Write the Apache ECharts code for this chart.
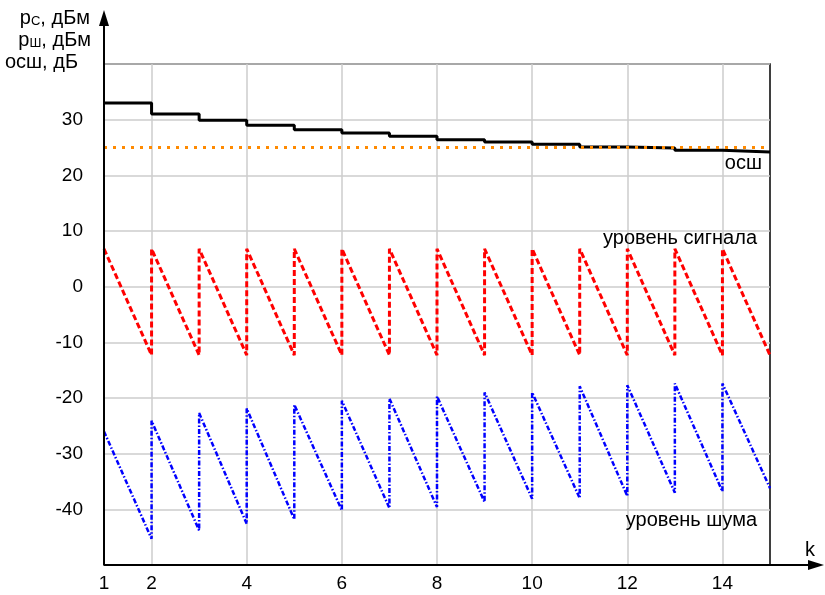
<!DOCTYPE html>
<html>
<head>
<meta charset="utf-8">
<script src="https://cdn.jsdelivr.net/npm/echarts@6/dist/echarts.min.js"></script>
<style>
html, body { margin: 0; padding: 0; background: #fff; }
#chart { width: 825px; height: 595px; }
</style>
</head>
<body>
<div id="chart"></div>
<script>
// шаги k и отношение сигнал/шум (ступенчатая линия)
var k_steps = [1, 2, 3, 4, 5, 6, 7, 8, 9, 10, 11, 12, 13, 14, 15];
var snr_db = [33.0, 31.0, 29.9, 29.0, 28.2, 27.6, 27.0, 26.4, 26.0, 25.6, 25.1, 24.9, 24.5, 24.2, 24.2];

// пороговое осш
var snr_k = [1, 15];
var snr_min_db = [25, 25];

// пилообразные уровни: каждая пара точек - один участок
var saw_k = [1, 2, 2, 3, 3, 4, 4, 5, 5, 6, 6, 7, 7, 8,
	     8, 9, 9, 10, 10, 11, 11, 12, 12, 13, 13, 14, 14, 15];
var signal_dbm = [6.8, -12.3, 6.8, -12.3, 6.8, -12.3, 6.8, -12.3, 6.8, -12.3, 6.8, -12.3, 6.8, -12.3,
		  6.8, -12.3, 6.8, -12.3, 6.8, -12.3, 6.8, -12.3, 6.8, -12.3, 6.8, -12.3, 6.8, -12.3];
var noise_dbm = [-26.0, -45.3, -24.1, -43.8, -22.7, -42.6, -21.9, -41.8, -21.2, -40.2, -20.5, -39.8, -20.1, -39.6,
		 -19.7, -38.7, -19.0, -38.1, -19.0, -38.0, -17.9, -37.6, -17.7, -37.0, -17.4, -36.8, -17.4, -36.2];

// подписи осей
var x_labels = [1, 2, 4, 6, 8, 10, 12, 14];
var x_grid = [2, 4, 6, 8, 10, 12, 14];
var y_labels = [30, 20, 10, 0, -10, -20, -30, -40];

var FONT = "Liberation Sans, Arial, sans-serif";

function zip(xs, ys) {
	var out = [];
	for (var i = 0; i < xs.length; i++)
		out.push([xs[i], ys[i]]);
	return out;
}

var chart = echarts.init(document.getElementById("chart"));

var option = {
	animation: false,
	backgroundColor: "#fff",
	grid: {
		left: 104,
		right: 55,
		top: 64,
		bottom: 30,
		show: true,
		borderColor: "#000",
		borderWidth: 1.5
	},
	xAxis: {
		type: "value",
		min: 1,
		max: 15,
		interval: 1,
		axisLine: { show: false },
		axisTick: { show: false, customValues: x_grid },
		axisLabel: {
			customValues: x_labels,
			fontFamily: FONT,
			fontSize: 19,
			color: "#000",
			margin: 9
		},
		splitLine: {
			show: true,
			lineStyle: { color: "#cccccc", width: 1.5 }
		}
	},
	yAxis: {
		type: "value",
		min: -50,
		max: 40,
		interval: 10,
		axisLine: { show: false },
		axisTick: { show: false },
		axisLabel: {
			fontFamily: FONT,
			fontSize: 19,
			color: "#000",
			margin: 21,
			formatter: function (v) {
				return y_labels.indexOf(v) >= 0 ? String(v) : "";
			}
		},
		splitLine: {
			show: true,
			lineStyle: { color: "#cccccc", width: 1.5 }
		}
	},
	series: [
		{
			// осш по шагам
			type: "line",
			step: "end",
			data: zip(k_steps, snr_db),
			showSymbol: false,
			lineStyle: { color: "#000", width: 3 },
			z: 3
		},
		{
			// порог
			type: "line",
			data: zip(snr_k, snr_min_db),
			showSymbol: false,
			lineStyle: { color: "#ff8a00", width: 3, type: [3, 6] },
			z: 4
		},
		{
			// уровень сигнала
			type: "line",
			data: zip(saw_k, signal_dbm),
			showSymbol: false,
			lineStyle: { color: "#ff0000", width: 3, type: [6, 3] },
			z: 3
		},
		{
			// уровень шума
			type: "line",
			data: zip(saw_k, noise_dbm),
			showSymbol: false,
			lineStyle: { color: "#0000ff", width: 2.5, type: [5, 2, 1.5, 2] },
			z: 3
		}
	]
};

chart.setOption(option);

// оси со стрелками и подписи
var o = chart.convertToPixel({ gridIndex: 0 }, [1, -50]);
var ox = o[0], oy = o[1];
var txt = { fontFamily: FONT, fontSize: 20, fill: "#000" };
function text(x, y, s, align) {
	return {
		type: "text",
		x: x, y: y, z: 10,
		style: Object.assign({ text: s, align: align || "right", verticalAlign: "middle" }, txt)
	};
}
function unitText(x, y, sub, tail) {
	return {
		type: "text",
		x: x, y: y, z: 10,
		style: {
			text: "{n|р}{s|" + sub + "}{n|" + tail + "}",
			align: "right",
			verticalAlign: "middle",
			rich: {
				n: { fontFamily: FONT, fontSize: 20, fill: "#000" },
				s: { fontFamily: FONT, fontSize: 13, fill: "#000", verticalAlign: "bottom" }
			}
		}
	};
}

chart.setOption({
	graphic: [
		{ type: "line", z: 10, shape: { x1: ox, y1: oy, x2: ox, y2: 22 },
		  style: { stroke: "#000", lineWidth: 2 } },
		{ type: "polygon", z: 10, shape: { points: [[ox, 10], [ox - 5, 26], [ox + 5, 26]] },
		  style: { fill: "#000" } },
		{ type: "line", z: 10, shape: { x1: ox, y1: oy, x2: 812, y2: oy },
		  style: { stroke: "#000", lineWidth: 2 } },
		{ type: "polygon", z: 10, shape: { points: [[824, oy], [808, oy - 5], [808, oy + 5]] },
		  style: { fill: "#000" } },
		text(810, 550, "k", "center"),
		unitText(90, 18, "С", ", дБм"),
		unitText(91, 40, "Ш", ", дБм"),
		text(78, 62, "осш, дБ"),
		text(762, 163, "осш"),
		text(757, 238, "уровень сигнала"),
		text(757, 520, "уровень шума")
	]
});
</script>
</body>
</html>
